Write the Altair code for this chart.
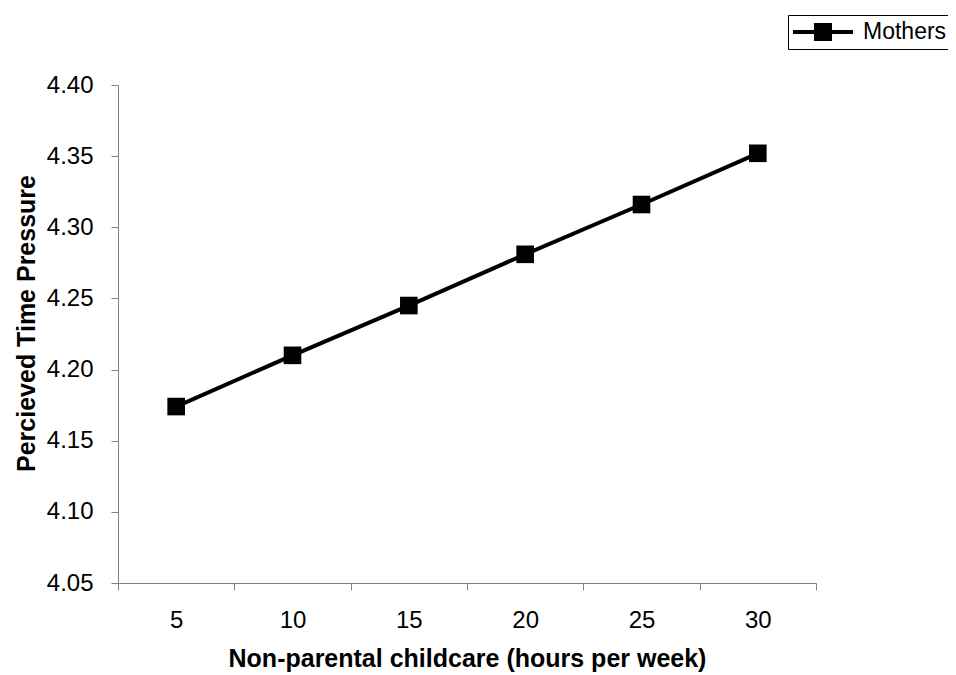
import altair as alt
import pandas as pd

hours = [5, 10, 15, 20, 25, 30]
pressure = [4.174, 4.210, 4.245, 4.281, 4.316, 4.352]
series = ["Mothers"] * 6
y_ticks = [4.05, 4.10, 4.15, 4.20, 4.25, 4.30, 4.35, 4.40]
x_ticks = [2.5, 5, 7.5, 10, 12.5, 15, 17.5, 20, 22.5, 25, 27.5, 30, 32.5]

df = pd.DataFrame({"hours": hours, "pressure": pressure, "series": series})

FONT = "Liberation Sans"
legend_symbol = "M-2.5,-0.17H2.5V0.17H-2.5Z M-0.75,-0.75H0.75V0.75H-0.75Z"

x = alt.X(
    "hours:Q",
    scale=alt.Scale(domain=[2.5, 32.5], nice=False, zero=False),
    axis=alt.Axis(
        title="Non-parental childcare (hours per week)",
        values=x_ticks,
        labelExpr="datum.value % 5 == 0 ? datum.label : ''",
        tickOpacity={"condition": {"test": "datum.value % 5 != 0", "value": 1}, "value": 0},
        labelOverlap=False,
        labelFlush=False,
        tickSize=7,
        labelPadding=18,
        titlePadding=14,
    ),
)
y = alt.Y(
    "pressure:Q",
    scale=alt.Scale(domain=[4.05, 4.40], nice=False, zero=False),
    axis=alt.Axis(
        title="Percieved Time Pressure",
        values=y_ticks,
        format=".2f",
        labelOverlap=False,
        labelFlush=False,
        tickSize=7,
        labelPadding=18,
        titlePadding=7,
        titleY=238,
    ),
)

line = alt.Chart(df).mark_line(color="black", strokeWidth=4).encode(x=x, y=y)

points = alt.Chart(df).mark_square(size=310, opacity=1, filled=True).encode(
    x=x,
    y=y,
    color=alt.Color(
        "series:N",
        scale=alt.Scale(range=["black"]),
        legend=alt.Legend(
            title=None,
            orient="none",
            legendX=670,
            legendY=-70,
            symbolType=legend_symbol,
            symbolSize=576,
            symbolOffset=18,
            labelOffset=28,
            labelFontSize=23,
            labelFont=FONT,
            labelColor="black",
            padding=5,
            strokeColor="black",
            symbolStrokeWidth=0,
            symbolFillColor="black",
            symbolOpacity=1,
        ),
    ),
)

chart = (
    alt.layer(line, points)
    .properties(
        width=698,
        height=498,
        autosize=alt.AutoSizeParams(type="none"),
        padding={"left": 110, "top": 77, "right": 132, "bottom": 90},
        background="white",
    )
    .configure_view(stroke=None)
    .configure_axis(
        grid=False,
        domainColor="#808080",
        tickColor="#808080",
        domainWidth=1,
        tickWidth=1,
        labelFont=FONT,
        titleFont=FONT,
        labelColor="black",
        titleColor="black",
        labelFontSize=24,
        titleFontSize=25,
        titleFontWeight="bold",
    )
)

chart.save("out.html", embed_options={"renderer": "svg", "actions": False})
